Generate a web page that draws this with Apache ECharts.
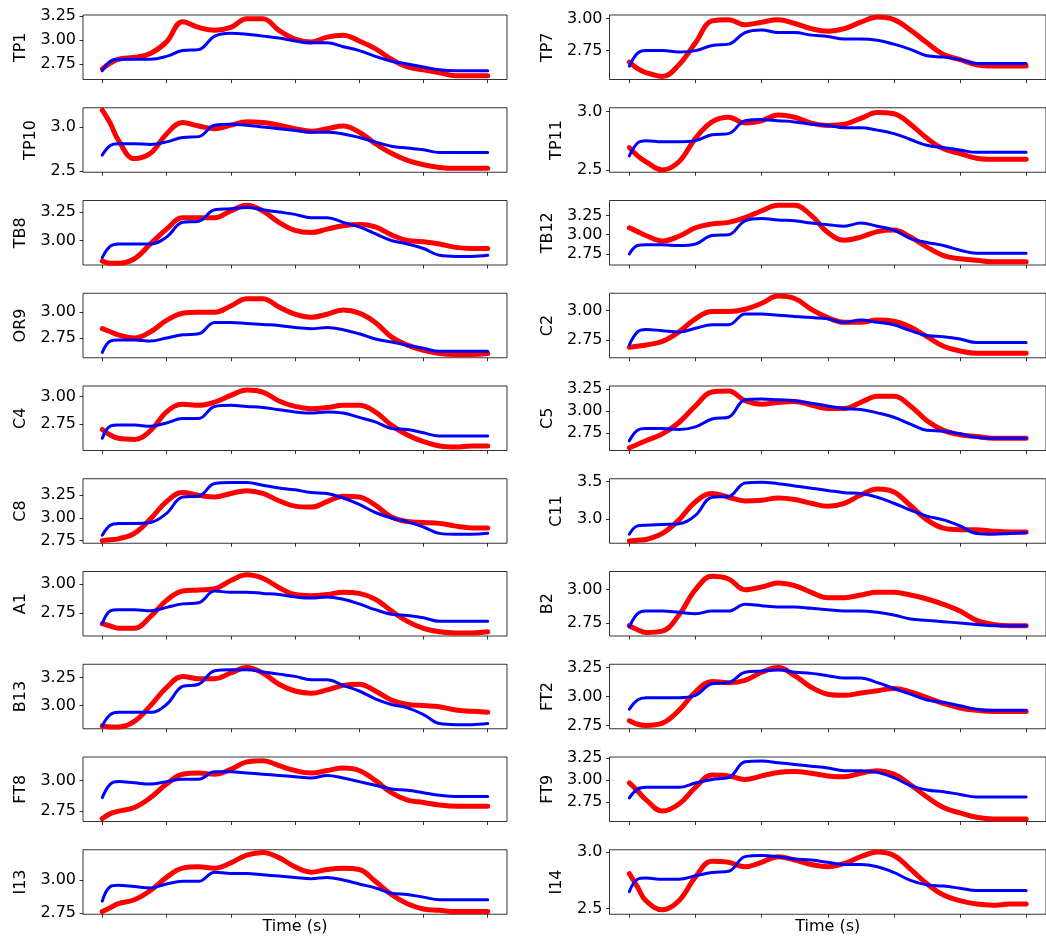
<!DOCTYPE html>
<html><head><meta charset="utf-8">
<script src="https://cdn.jsdelivr.net/npm/echarts@6/dist/echarts.min.js"></script>
<style>html,body{margin:0;padding:0;background:#fff}#c{width:1046px;height:939px}</style>
</head><body><div id="c"></div>
<script>
// time grid (s)
const t = [0,0.125,0.25,0.5,0.75,1,1.25,1.5,1.75,2,2.25,2.5,2.75,3,3.25,3.5,3.75,4,4.25,4.5,4.75,5,5.25,5.5,5.75,6];
const xTicks = [0,1,2,3,4,5,6];

// left column
const TP1_red  = [2.70,2.76,2.80,2.82,2.86,2.98,3.19,3.13,3.10,3.13,3.22,3.22,3.10,3.01,2.98,3.03,3.05,2.99,2.91,2.80,2.72,2.69,2.66,2.63,2.63,2.63];
const TP1_blue = [2.68,2.78,2.80,2.80,2.80,2.83,2.89,2.90,3.04,3.07,3.06,3.04,3.02,2.99,2.97,2.97,2.93,2.89,2.83,2.78,2.75,2.72,2.69,2.68,2.68,2.68];
const TP10_red  = [3.19,3.04,2.85,2.64,2.70,2.92,3.05,3.01,2.98,3.02,3.06,3.05,3.02,2.98,2.95,2.98,3.01,2.94,2.81,2.70,2.62,2.57,2.54,2.53,2.53,2.53];
const TP10_blue = [2.68,2.79,2.81,2.81,2.80,2.83,2.88,2.89,3.02,3.03,3.02,3.00,2.98,2.96,2.94,2.94,2.92,2.88,2.83,2.78,2.76,2.74,2.71,2.71,2.71,2.71];
const TB8_red  = [2.82,2.80,2.80,2.84,2.97,3.10,3.20,3.20,3.20,3.26,3.31,3.26,3.16,3.09,3.07,3.10,3.13,3.14,3.12,3.05,3.00,2.99,2.97,2.94,2.93,2.93];
const TB8_blue = [2.85,2.95,2.97,2.97,2.97,3.03,3.16,3.17,3.27,3.28,3.29,3.27,3.25,3.23,3.20,3.20,3.16,3.12,3.06,3.00,2.97,2.93,2.87,2.86,2.86,2.87];
const OR9_red  = [2.84,2.81,2.78,2.75,2.81,2.92,2.99,3.00,3.00,3.06,3.13,3.13,3.05,2.98,2.95,2.98,3.02,2.99,2.90,2.76,2.68,2.63,2.60,2.59,2.59,2.60];
const OR9_blue = [2.61,2.72,2.73,2.73,2.72,2.75,2.78,2.79,2.90,2.90,2.89,2.88,2.87,2.85,2.84,2.85,2.83,2.79,2.74,2.71,2.68,2.65,2.62,2.62,2.62,2.62];
const C4_red  = [2.70,2.65,2.62,2.61,2.69,2.86,2.93,2.92,2.95,3.01,3.06,3.04,2.96,2.91,2.89,2.90,2.92,2.92,2.86,2.74,2.65,2.59,2.55,2.54,2.55,2.55];
const C4_blue = [2.62,2.73,2.74,2.74,2.73,2.76,2.80,2.80,2.91,2.92,2.91,2.90,2.88,2.86,2.85,2.86,2.85,2.81,2.77,2.71,2.70,2.67,2.64,2.64,2.64,2.64];
const C8_red  = [2.75,2.76,2.77,2.83,2.99,3.18,3.28,3.25,3.23,3.27,3.30,3.27,3.19,3.13,3.12,3.18,3.24,3.23,3.14,3.01,2.96,2.95,2.94,2.91,2.89,2.89];
const C8_blue = [2.81,2.92,2.94,2.94,2.95,3.05,3.23,3.24,3.38,3.39,3.39,3.36,3.33,3.31,3.28,3.27,3.22,3.15,3.06,3.00,2.96,2.90,2.83,2.82,2.82,2.83];
const A1_red  = [2.66,2.64,2.62,2.62,2.72,2.86,2.94,2.95,2.96,3.03,3.08,3.05,2.97,2.91,2.90,2.91,2.93,2.92,2.87,2.77,2.68,2.62,2.59,2.58,2.58,2.59];
const A1_blue = [2.66,2.77,2.78,2.78,2.77,2.80,2.83,2.84,2.94,2.93,2.93,2.92,2.91,2.89,2.88,2.89,2.87,2.83,2.78,2.74,2.73,2.71,2.68,2.68,2.68,2.68];
const B13_red  = [2.82,2.81,2.81,2.86,3.00,3.16,3.26,3.24,3.24,3.29,3.34,3.29,3.19,3.13,3.11,3.14,3.18,3.19,3.13,3.05,3.01,3.00,2.99,2.96,2.95,2.94];
const B13_blue = [2.82,2.92,2.94,2.94,2.94,3.01,3.17,3.19,3.31,3.32,3.32,3.30,3.28,3.26,3.23,3.23,3.18,3.13,3.06,3.01,2.98,2.92,2.84,2.83,2.83,2.84];
const FT8_red  = [2.69,2.73,2.75,2.78,2.86,2.97,3.05,3.06,3.05,3.09,3.15,3.16,3.12,3.08,3.06,3.08,3.10,3.08,3.00,2.90,2.84,2.82,2.80,2.79,2.79,2.79];
const FT8_blue = [2.86,2.97,2.99,2.98,2.97,2.99,3.01,3.01,3.07,3.07,3.06,3.05,3.04,3.03,3.02,3.04,3.02,2.99,2.96,2.93,2.92,2.90,2.88,2.87,2.87,2.87];
const I13_red  = [2.76,2.79,2.82,2.85,2.92,3.02,3.09,3.10,3.09,3.13,3.19,3.21,3.17,3.10,3.06,3.08,3.09,3.08,2.99,2.89,2.82,2.78,2.77,2.76,2.76,2.76];
const I13_blue = [2.84,2.95,2.96,2.95,2.94,2.97,2.99,2.99,3.06,3.05,3.05,3.04,3.03,3.02,3.01,3.02,3.00,2.97,2.94,2.90,2.89,2.87,2.85,2.85,2.85,2.85];

// right column
const TP7_red  = [2.66,2.61,2.58,2.55,2.64,2.81,2.98,2.99,2.95,2.97,2.99,2.96,2.92,2.90,2.92,2.97,3.01,2.99,2.91,2.81,2.72,2.68,2.64,2.63,2.63,2.63];
const TP7_blue = [2.63,2.73,2.75,2.75,2.74,2.75,2.79,2.80,2.89,2.91,2.89,2.89,2.87,2.86,2.84,2.84,2.83,2.80,2.76,2.71,2.70,2.68,2.65,2.65,2.65,2.65];
const TP11_red  = [2.69,2.62,2.57,2.50,2.57,2.77,2.91,2.95,2.90,2.92,2.97,2.95,2.90,2.88,2.89,2.94,2.99,2.98,2.89,2.77,2.68,2.64,2.60,2.59,2.59,2.59];
const TP11_blue = [2.62,2.73,2.75,2.74,2.74,2.75,2.80,2.81,2.92,2.93,2.92,2.91,2.89,2.88,2.86,2.86,2.84,2.81,2.76,2.71,2.69,2.67,2.65,2.65,2.65,2.65];
const TB12_red  = [3.09,3.04,2.99,2.92,2.98,3.09,3.14,3.16,3.22,3.31,3.38,3.38,3.25,3.03,2.93,2.97,3.04,3.06,2.97,2.84,2.73,2.69,2.67,2.65,2.65,2.65];
const TB12_blue = [2.75,2.86,2.87,2.87,2.86,2.88,2.99,3.00,3.18,3.21,3.19,3.18,3.15,3.13,3.11,3.15,3.11,3.06,2.95,2.90,2.86,2.80,2.76,2.76,2.76,2.76];
const C2_red  = [2.69,2.70,2.71,2.74,2.82,2.93,2.99,2.99,3.01,3.06,3.12,3.10,3.01,2.94,2.90,2.90,2.92,2.91,2.86,2.78,2.70,2.66,2.64,2.64,2.64,2.64];
const C2_blue = [2.71,2.82,2.84,2.83,2.82,2.85,2.88,2.88,2.97,2.97,2.96,2.95,2.94,2.93,2.90,2.92,2.90,2.88,2.83,2.79,2.78,2.76,2.73,2.73,2.73,2.73];
const C5_red  = [2.58,2.62,2.66,2.74,2.87,3.06,3.22,3.23,3.12,3.08,3.10,3.11,3.07,3.03,3.03,3.10,3.17,3.17,3.06,2.89,2.78,2.73,2.71,2.69,2.69,2.69];
const C5_blue = [2.66,2.78,2.80,2.80,2.79,2.82,2.91,2.93,3.13,3.14,3.13,3.12,3.09,3.06,3.03,3.02,2.98,2.93,2.85,2.78,2.77,2.74,2.70,2.69,2.69,2.69];
const C11_red  = [2.71,2.72,2.73,2.81,2.99,3.23,3.34,3.29,3.24,3.25,3.28,3.26,3.21,3.17,3.21,3.32,3.40,3.36,3.18,2.99,2.88,2.86,2.86,2.84,2.83,2.83];
const C11_blue = [2.80,2.91,2.92,2.93,2.94,3.05,3.29,3.30,3.48,3.49,3.47,3.44,3.41,3.38,3.35,3.34,3.29,3.21,3.12,3.04,2.99,2.91,2.81,2.80,2.81,2.82];
const B2_red  = [2.73,2.70,2.68,2.69,2.81,3.00,3.10,3.08,3.00,3.02,3.05,3.03,2.98,2.94,2.94,2.96,2.98,2.98,2.96,2.93,2.89,2.84,2.77,2.74,2.73,2.73];
const B2_blue = [2.72,2.82,2.84,2.84,2.83,2.82,2.84,2.84,2.89,2.88,2.87,2.87,2.86,2.85,2.84,2.84,2.83,2.81,2.78,2.77,2.76,2.75,2.74,2.73,2.73,2.73];
const FT2_red  = [2.79,2.76,2.75,2.77,2.88,3.04,3.13,3.12,3.14,3.21,3.25,3.18,3.08,3.02,3.01,3.03,3.05,3.07,3.04,2.99,2.94,2.90,2.88,2.87,2.87,2.87];
const FT2_blue = [2.89,2.97,2.99,2.99,2.99,3.01,3.11,3.12,3.21,3.22,3.23,3.21,3.20,3.18,3.16,3.16,3.12,3.07,3.02,2.97,2.95,2.92,2.89,2.88,2.88,2.88];
const FT9_red  = [2.97,2.88,2.78,2.65,2.73,2.92,3.06,3.05,3.01,3.05,3.09,3.10,3.08,3.05,3.04,3.08,3.11,3.07,2.95,2.81,2.69,2.63,2.58,2.56,2.56,2.56];
const FT9_blue = [2.80,2.90,2.92,2.92,2.92,2.97,3.01,3.03,3.21,3.22,3.20,3.18,3.16,3.14,3.11,3.11,3.09,3.03,2.94,2.89,2.87,2.84,2.81,2.81,2.81,2.81];
const I14_red  = [2.81,2.69,2.57,2.49,2.57,2.78,2.92,2.91,2.87,2.91,2.96,2.93,2.89,2.87,2.90,2.96,3.00,2.97,2.85,2.72,2.62,2.57,2.54,2.53,2.54,2.54];
const I14_blue = [2.65,2.76,2.77,2.76,2.76,2.79,2.82,2.83,2.96,2.97,2.96,2.94,2.93,2.91,2.89,2.89,2.87,2.82,2.75,2.71,2.70,2.68,2.66,2.66,2.66,2.66];

// panel names, y-limits and y tick labels
const leftNames  = ['TP1','TP10','TB8','OR9','C4','C8','A1','B13','FT8','I13'];
const rightNames = ['TP7','TP11','TB12','C2','C5','C11','B2','FT2','FT9','I14'];
const leftRed  = [TP1_red,TP10_red,TB8_red,OR9_red,C4_red,C8_red,A1_red,B13_red,FT8_red,I13_red];
const leftBlue = [TP1_blue,TP10_blue,TB8_blue,OR9_blue,C4_blue,C8_blue,A1_blue,B13_blue,FT8_blue,I13_blue];
const rightRed  = [TP7_red,TP11_red,TB12_red,C2_red,C5_red,C11_red,B2_red,FT2_red,FT9_red,I14_red];
const rightBlue = [TP7_blue,TP11_blue,TB12_blue,C2_blue,C5_blue,C11_blue,B2_blue,FT2_blue,FT9_blue,I14_blue];
const leftLim = [[2.590,3.259],[2.485,3.218],[2.785,3.352],[2.558,3.183],[2.509,3.096],[2.721,3.432],[2.554,3.108],[2.794,3.368],[2.666,3.190],[2.740,3.230]];
const rightLim = [[2.526,3.026],[2.480,3.031],[2.609,3.442],[2.603,3.144],[2.549,3.288],[2.680,3.535],[2.653,3.136],[2.721,3.279],[2.532,3.265],[2.450,3.021]];
const leftTicks = [[2.75,3.00,3.25],[2.5,3.0],[3.00,3.25],[2.75,3.00],[2.75,3.00],[2.75,3.00,3.25],[2.75,3.00],[3.00,3.25],[2.75,3.00],[2.75,3.00]];
const rightTicks = [[2.75,3.00],[2.5,3.0],[2.75,3.00,3.25],[2.75,3.00],[2.75,3.00,3.25],[3.0,3.5],[2.75,3.00],[2.75,3.00,3.25],[2.75,3.00,3.25],[2.5,3.0]];
const xLabel = 'Time (s)';

const FONT = 'DejaVu Sans';
const FS = 16;
const grids = [], xAxes = [], yAxes = [], series = [];
function addPanel(col, row, name, red, blue, lim, ticks) {
  const idx = grids.length;
  const left = col === 0 ? 83 : 609.5;
  const width = col === 0 ? 424 : 439;
  const top = 15 + 92.75 * row;
  grids.push({left: left, top: top, width: width, height: 64.5, show: true,
    borderColor: '#000', borderWidth: 0.8, backgroundColor: 'transparent'});
  const halfStep = (ticks[1] - ticks[0]) === 0.5;
  const dec = halfStep ? 1 : 2;
  const lw = Math.max.apply(null, ticks.map(v => v.toFixed(dec).length));
  xAxes.push({type: 'value', gridIndex: idx, min: -0.3, max: 6.3, position: 'bottom',
    axisLine: {show: false, onZero: false}, splitLine: {show: false},
    axisTick: {show: true, customValues: xTicks, length: 3.5, lineStyle: {color: '#000', width: 0.8}},
    axisLabel: {show: false},
    name: row === 9 ? xLabel : '', nameLocation: 'middle', nameGap: 5,
    nameTextStyle: {fontFamily: FONT, fontSize: FS, color: '#000', verticalAlign: 'top'}});
  yAxes.push({type: 'value', gridIndex: idx, min: lim[0], max: lim[1], position: 'left',
    axisLine: {show: false, onZero: false}, splitLine: {show: false},
    axisTick: {show: true, customValues: ticks, length: 3.5, lineStyle: {color: '#000', width: 0.8}},
    axisLabel: {show: true, customValues: ticks, margin: 7, fontFamily: FONT, fontSize: FS, color: '#000',
      formatter: v => Number(v).toFixed(dec)},
    name: name, nameLocation: 'middle', nameRotate: 90, nameGap: 7 + lw * 9.2 + 10,
    nameTextStyle: {fontFamily: FONT, fontSize: FS, color: '#000'}});
  series.push({type: 'line', xAxisIndex: idx, yAxisIndex: idx, showSymbol: false, smooth: 0.4,
    data: t.map((x, i) => [x, red[i]]),
    lineStyle: {color: '#ff0000', width: 5, cap: 'round', join: 'round'}, silent: true, z: 2});
  series.push({type: 'line', xAxisIndex: idx, yAxisIndex: idx, showSymbol: false, smooth: 0.4,
    data: t.map((x, i) => [x, blue[i]]),
    lineStyle: {color: '#0000ff', width: 3, cap: 'round', join: 'round'}, silent: true, z: 3});
}
for (let r = 0; r < 10; r++) {
  addPanel(0, r, leftNames[r], leftRed[r], leftBlue[r], leftLim[r], leftTicks[r]);
  addPanel(1, r, rightNames[r], rightRed[r], rightBlue[r], rightLim[r], rightTicks[r]);
}
const chart = echarts.init(document.getElementById('c'), null, {renderer: 'canvas'});
chart.setOption({animation: false, backgroundColor: '#fff', grid: grids, xAxis: xAxes, yAxis: yAxes, series: series});
</script>
</body></html>
